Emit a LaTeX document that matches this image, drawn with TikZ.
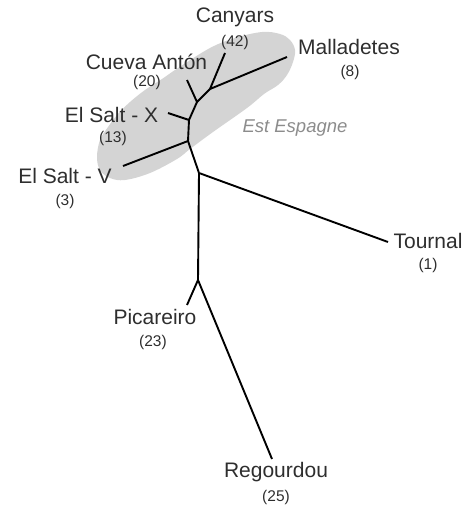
\documentclass[tikz,border=0pt]{standalone}
\usepackage{fontspec}
\setmainfont{Liberation Sans}
\begin{document}
\begin{tikzpicture}[x=1pt,y=-1pt,
  branch/.style={line width=1.9pt,draw=black,line cap=butt,line join=miter},
  site/.style={inner sep=0pt,text=black!82,font=\fontsize{21}{23}\selectfont},
  count/.style={inner sep=0pt,text=black!82,font=\fontsize{15.5}{17}\selectfont},
  region/.style={inner sep=0pt,text=black!45,font=\fontsize{18.5}{20}\selectfont\itshape}]
\useasboundingbox (0,0) rectangle (476,506);
% grouping shape
\fill[black!17] plot[smooth cycle,tension=0.6] coordinates {
  (97,157) (100,140) (108,127) (118,114) (130,102) (145,90) (162,79) (178,68)
  (210,48) (235,38) (262,32) (280,34) (290,40) (295,50) (293,62) (287,75)
  (278,85) (264,94) (247,108) (213,132) (190,149) (177,159) (150,173)
  (125,180) (110,178) (100,170)};
% internal nodes
\coordinate (n1) at (210,89);
\coordinate (n2) at (197,102);
\coordinate (n3) at (189,120);
\coordinate (n4) at (188,141);
\coordinate (n5) at (199,173);
\coordinate (n6) at (198,280);
% leaf tips
\coordinate (tCan) at (225,53);
\coordinate (tMal) at (287,57);
\coordinate (tCue) at (187,80);
\coordinate (tSX) at (168,113);
\coordinate (tSV) at (123,166);
\coordinate (tTou) at (388,242);
\coordinate (tPic) at (187,305);
\coordinate (tReg) at (272,459);
% tree
\draw[branch] (tCan) -- (n1) -- (tMal);
\draw[branch] (n1) -- (n2) -- (tCue);
\draw[branch] (n2) -- (n3) -- (tSX);
\draw[branch] (n3) -- (n4) -- (tSV);
\draw[branch] (n4) -- (n5) -- (tTou);
\draw[branch] (n5) -- (n6) -- (tPic);
\draw[branch] (n6) -- (tReg);
% labels
\node[site] (lCan) at (235,17) {Canyars};
\node[count] (cCan) at (235,42) {(42)};
\node[site] (lMal) at (349,47) {Malladetes};
\node[count] (cMal) at (350,72) {(8)};
\node[site] (lCue) at (146.5,62) {Cueva Antón};
\node[count] (cCue) at (147,82) {(20)};
\node[site] (lSX) at (111.5,115) {El Salt - X};
\node[count] (cSX) at (113,138) {(13)};
\node[site] (lSV) at (65,176) {El Salt - V};
\node[count] (cSV) at (65,201) {(3)};
\node[site] (lTou) at (428,241) {Tournal};
\node[count] (cTou) at (428,265) {(1)};
\node[site] (lPic) at (155,317) {Picareiro};
\node[count] (cPic) at (153,342) {(23)};
\node[site] (lReg) at (276,472) {Regourdou};
\node[count] (cReg) at (276,497) {(25)};
\node[region] (est) at (295,128) {Est Espagne};
\end{tikzpicture}
\end{document}
